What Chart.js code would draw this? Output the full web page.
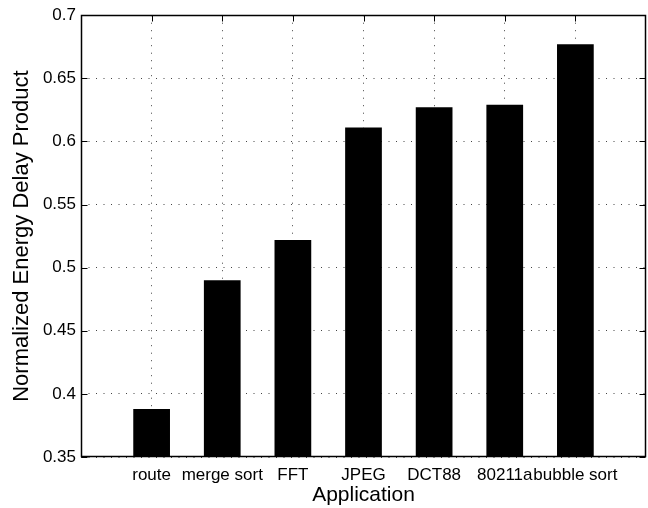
<!DOCTYPE html>
<html>
<head>
<meta charset="utf-8">
<script src="https://cdn.jsdelivr.net/npm/chart.js@4/dist/chart.umd.min.js"></script>
<style>
html, body { margin: 0; padding: 0; background: #fff; }
</style>
</head>
<body>
<canvas id="edpChart" width="648" height="508"></canvas>
<script>
// data
const apps = ['route', 'merge sort', 'FFT', 'JPEG', 'DCT88', '80211a', 'bubble sort'];
const edp = [0.388, 0.490, 0.522, 0.611, 0.627, 0.629, 0.677];
const yTicks = [0.35, 0.4, 0.45, 0.5, 0.55, 0.6, 0.65, 0.7];

const FONT = '"Liberation Sans", Arial, Helvetica, sans-serif';

// box around the axes + inward tick marks, matlab style
const framePlugin = {
    id: 'frame',
    afterDatasetsDraw(chart) {
        const ctx = chart.ctx;
        const a = chart.chartArea;
        const xs = chart.scales.x, ys = chart.scales.y;
        const L = Math.round(a.left) + 0.5, R = Math.round(a.right) - 0.5;
        const T = Math.round(a.top) + 0.5, B = Math.round(a.bottom) - 0.5;
        ctx.save();
        ctx.strokeStyle = '#000';
        ctx.lineWidth = 1;
        ctx.beginPath();
        xs.ticks.forEach(t => {
            const px = Math.round(xs.getPixelForValue(t.value)) + 0.5;
            ctx.moveTo(px, B); ctx.lineTo(px, B - 6);
            ctx.moveTo(px, T); ctx.lineTo(px, T + 6);
        });
        ys.ticks.forEach(t => {
            const py = Math.round(ys.getPixelForValue(t.value)) + 0.5;
            ctx.moveTo(L, py); ctx.lineTo(L + 6, py);
            ctx.moveTo(R, py); ctx.lineTo(R - 6, py);
        });
        ctx.stroke();
        ctx.lineWidth = 1.5;
        ctx.strokeRect(L, T, R - L, B - T);
        ctx.restore();
    }
};

new Chart(document.getElementById('edpChart'), {
    type: 'bar',
    data: {
        datasets: [{
            data: edp.map((v, i) => ({ x: i + 1, y: v })),
            backgroundColor: '#000',
            borderWidth: 0,
            barPercentage: 0.52,
            categoryPercentage: 1
        }]
    },
    options: {
        responsive: false,
        animation: false,
        devicePixelRatio: 1,
        layout: { autoPadding: false, padding: { left: 0, right: 2, top: 13, bottom: 0 } },
        plugins: {
            legend: { display: false },
            tooltip: { enabled: false }
        },
        scales: {
            x: {
                type: 'linear',
                min: 0,
                max: 8,
                offset: false,
                afterBuildTicks: s => { s.ticks = apps.map((a, i) => ({ value: i + 1 })); },
                afterFit: s => { s.height = 51; },
                ticks: {
                    autoSkip: false,
                    maxRotation: 0,
                    padding: 8,
                    color: '#000',
                    font: { family: FONT, size: 17 },
                    callback: v => apps[v - 1]
                },
                grid: { color: '#444', lineWidth: 1, drawTicks: false, offset: false },
                border: { display: false, dash: [1, 6.5] },
                title: {
                    display: true,
                    text: 'Application',
                    color: '#000',
                    font: { family: FONT, size: 21 },
                    padding: { top: 0, bottom: 0 }
                }
            },
            y: {
                min: 0.35,
                max: 0.7,
                afterBuildTicks: s => { s.ticks = yTicks.map(v => ({ value: v })); },
                afterFit: s => { s.width = 81; },
                ticks: {
                    padding: 5,
                    color: '#000',
                    font: { family: FONT, size: 17 },
                    callback: v => String(+v.toFixed(2))
                },
                grid: { color: '#444', lineWidth: 1, drawTicks: false },
                border: { display: false, dash: [1, 6.5] },
                title: {
                    display: true,
                    text: 'Normalized Energy Delay Product',
                    color: '#000',
                    font: { family: FONT, size: 22 },
                    padding: { top: 9, bottom: 0 }
                }
            }
        }
    },
    plugins: [framePlugin]
});
</script>
</body>
</html>
